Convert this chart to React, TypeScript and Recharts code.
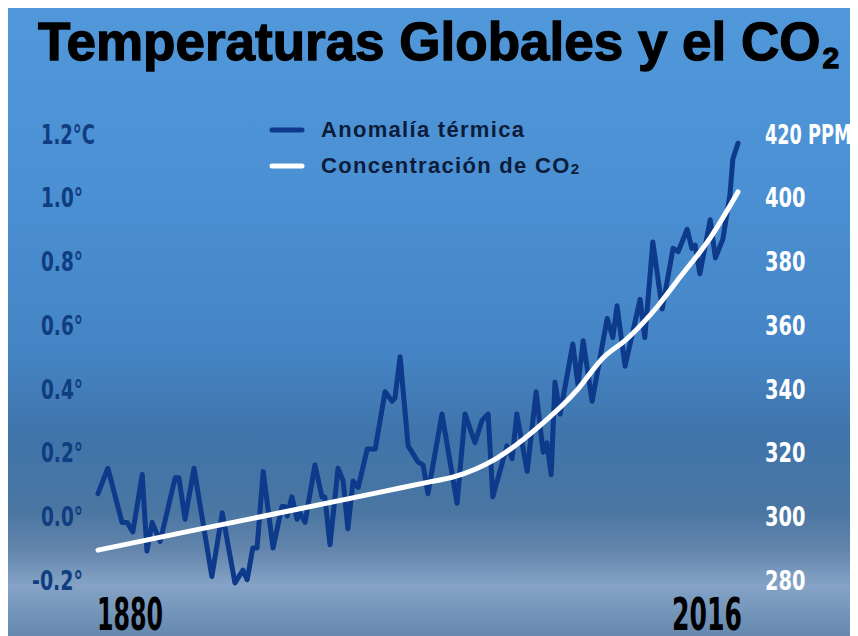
import React from 'react';
import { LineChart, Line, XAxis, YAxis, Legend } from 'recharts';

const tempYears = [1880, 1882.1, 1885.1, 1886.2, 1887.4, 1889.4, 1890.4, 1891.5, 1893.2, 1896.4, 1897.2, 1898.5, 1900.4, 1904.2, 1906.4, 1909.1, 1910.8, 1911.7, 1912.9, 1913.8, 1915.1, 1917.2, 1919.1, 1919.7, 1920.2, 1921.2, 1922.3, 1922.9, 1924.0, 1926.1, 1927.6, 1928.2, 1929.3, 1931.0, 1932.1, 1933.1, 1934.2, 1935.3, 1937.2, 1938.9, 1941.0, 1942.5, 1943.1, 1944.2, 1945.9, 1948.0, 1949.1, 1950.1, 1953.1, 1956.3, 1958.0, 1960.1, 1961.6, 1962.9, 1963.9, 1966.9, 1968.0, 1969.0, 1971.2, 1973.1, 1974.6, 1975.4, 1976.3, 1977.1, 1978.2, 1980.9, 1982.0, 1983.1, 1985.0, 1988.2, 1989.4, 1990.3, 1992.0, 1995.2, 1996.2, 1997.9, 1999.9, 2002.2, 2003.3, 2005.2, 2006.2, 2006.9, 2007.9, 2010.1, 2011.2, 2012.8, 2014.3, 2014.9, 2016];
const tempValues = [0.07, 0.15, -0.02, -0.02, -0.05, 0.13, -0.11, -0.02, -0.08, 0.12, 0.12, -0.01, 0.15, -0.19, 0.01, -0.21, -0.17, -0.2, -0.1, -0.1, 0.14, -0.1, 0.03, 0.03, 0.0, 0.06, -0.01, 0.01, -0.02, 0.16, 0.06, 0.06, -0.09, 0.15, 0.11, -0.04, 0.11, 0.09, 0.21, 0.21, 0.39, 0.36, 0.37, 0.5, 0.22, 0.17, 0.16, 0.07, 0.32, 0.04, 0.32, 0.23, 0.3, 0.32, 0.06, 0.22, 0.18, 0.32, 0.14, 0.39, 0.2, 0.23, 0.13, 0.42, 0.32, 0.54, 0.41, 0.55, 0.36, 0.62, 0.56, 0.66, 0.47, 0.68, 0.56, 0.86, 0.65, 0.84, 0.83, 0.9, 0.84, 0.85, 0.76, 0.93, 0.81, 0.87, 1.01, 1.12, 1.17];

const co2Years = [1880, 1900, 1920, 1940, 1950.5, 1955.4, 1964.8, 1973.3, 1981.8, 1987.3, 1992.4, 1998.8, 2003.7, 2010.1, 2016];
const co2Values = [289.3, 295.4, 301.4, 307.5, 310.7, 312.2, 318.2, 327.6, 339.5, 349.6, 355.6, 365.6, 375.0, 387.3, 401.7];

const tempTicks = [-0.2, 0, 0.2, 0.4, 0.6, 0.8, 1.0, 1.2];
const co2Ticks = [280, 300, 320, 340, 360, 380, 400, 420];
const yearTicks = [1880, 2016];

const tempName = 'Anomalía térmica';
const co2Name = 'Concentración de CO₂';

const tempData = tempYears.map((year, i) => ({ year, temp: tempValues[i] }));
const co2Data = co2Years.map((year, i) => ({ year, co2: co2Values[i] }));

const TEMP_COLOR = '#0d3a8a';
const CO2_COLOR = '#ffffff';
const TICK_FONT = "'DejaVu Sans Condensed','Liberation Sans',sans-serif";

const charWidth = (c: string) => {
  if (c === '.') return 6;
  if (c === '°') return 9;
  if (c === '-') return 9;
  if (c === ' ') return 4;
  if (c === 'C') return 12;
  if (c === 'P') return 13;
  if (c === 'M') return 16;
  return 13.5;
};
const labelWidth = (s: string) => s.split('').reduce((a, c) => a + charWidth(c), 0);

const LeftTick = (props: any) => {
  const { x, y, payload } = props;
  const v = Number(payload.value);
  const base = v.toFixed(1) + '°';
  const isTop = v === tempTicks[tempTicks.length - 1];
  const label = isTop ? base + 'C' : base;
  const startX = x - 15 - labelWidth(base);
  return (
    <text x={startX} y={y + 10} textAnchor="start" fontFamily={TICK_FONT} fontWeight={700} fontSize={27} fill="#0f3d80" textLength={labelWidth(label)} lengthAdjust="spacingAndGlyphs">
      {label}
    </text>
  );
};

const RightTick = (props: any) => {
  const { x, y, payload } = props;
  const v = Number(payload.value);
  const isTop = v === co2Ticks[co2Ticks.length - 1];
  const label = isTop ? String(v) + ' PPM' : String(v);
  return (
    <text x={x + 27} y={y + 10} textAnchor="start" fontFamily={TICK_FONT} fontWeight={700} fontSize={27} fill="#ffffff" textLength={labelWidth(label)} lengthAdjust="spacingAndGlyphs">
      {label}
    </text>
  );
};

const YearTick = (props: any) => {
  const { x, y, payload } = props;
  const v = Number(payload.value);
  const first = v === yearTicks[0];
  return (
    <text
      x={first ? x - 1 : x + 4}
      y={y + 18}
      textAnchor={first ? 'start' : 'end'}
      fontFamily={TICK_FONT}
      fontWeight={700}
      fontSize={45}
      fill="#000000"
      textLength={first ? 66 : 70}
      lengthAdjust="spacingAndGlyphs"
    >
      {String(v)}
    </text>
  );
};

const LegendContent = (props: any) => {
  const payload = props.payload || [];
  return (
    <svg width={340} height={80} style={{ display: 'block' }}>
      {payload.map((entry: any, i: number) => {
        const cy = 22 + i * 36;
        const text = String(entry.value);
        const hasSub = text.endsWith('₂');
        const main = hasSub ? text.slice(0, -1) : text;
        return (
          <g key={i}>
            <line x1={10} x2={40} y1={cy} y2={cy} stroke={entry.color} strokeWidth={5} strokeLinecap="round" />
            <text x={59} y={cy + 7} fontFamily="'Liberation Sans',Arial,sans-serif" fontWeight={700} fontSize={22} letterSpacing={1.3} fill="#0c1c3a">
              {main}
              {hasSub && (
                <tspan fontSize={15} dy={1}>2</tspan>
              )}
            </text>
          </g>
        );
      })}
    </svg>
  );
};

export default function App() {
  return (
    <div
      style={{
        position: 'relative',
        width: 850,
        height: 628,
        background:
          'linear-gradient(to bottom, #5198da 0%, #4a90d2 30%, #4584c4 55%, #3f74aa 68%, #4a76a2 80%, #6284ab 86%, #84a3c6 92%, #6688ae 100%)',
        overflow: 'hidden',
      }}
    >
      <svg width={850} height={90} style={{ position: 'absolute', left: 0, top: 0 }}>
        <text x={30} y={52} fontFamily="'Liberation Sans',Arial,sans-serif" fontWeight={700} fontSize={53} fill="#000" stroke="#000" strokeWidth={1.3}>
          Temperaturas Globales y el CO
          <tspan fontSize={30} dx={2} dy={8}>2</tspan>
        </text>
      </svg>
      <LineChart
        width={850}
        height={628}
        margin={{ top: 93.8, right: 0, bottom: 0, left: 0 }}
        style={{ position: 'absolute', left: 0, top: 0 }}
      >
        <XAxis
          dataKey="year"
          type="number"
          domain={[1880, 2016]}
          ticks={yearTicks}
          axisLine={false}
          tickLine={false}
          tickSize={0}
          tickMargin={0}
          height={24.4}
          tick={<YearTick />}
          interval={0}
          allowDuplicatedCategory={false}
        />
        <YAxis
          yAxisId="t"
          orientation="left"
          width={90}
          domain={[-0.3, 1.3]}
          ticks={tempTicks}
          axisLine={false}
          tickLine={false}
          tickSize={0}
          tickMargin={0}
          tick={<LeftTick />}
          interval={0}
        />
        <YAxis
          yAxisId="c"
          orientation="right"
          width={120}
          domain={[270, 430]}
          ticks={co2Ticks}
          axisLine={false}
          tickLine={false}
          tickSize={0}
          tickMargin={0}
          tick={<RightTick />}
          interval={0}
        />
        <Legend
          layout="vertical"
          verticalAlign="middle"
          align="center"
          content={<LegendContent />}
          wrapperStyle={{ position: 'absolute', left: 254, top: 100, width: 340, height: 80 }}
        />
        <Line
          yAxisId="t"
          data={tempData}
          dataKey="temp"
          name={tempName}
          type="linear"
          stroke={TEMP_COLOR}
          strokeWidth={5}
          strokeLinejoin="round"
          strokeLinecap="round"
          dot={false}
          activeDot={false}
          isAnimationActive={false}
        />
        <Line
          yAxisId="c"
          data={co2Data}
          dataKey="co2"
          name={co2Name}
          type="monotone"
          stroke={CO2_COLOR}
          strokeWidth={5}
          strokeLinecap="round"
          dot={false}
          activeDot={false}
          isAnimationActive={false}
        />
      </LineChart>
    </div>
  );
}
